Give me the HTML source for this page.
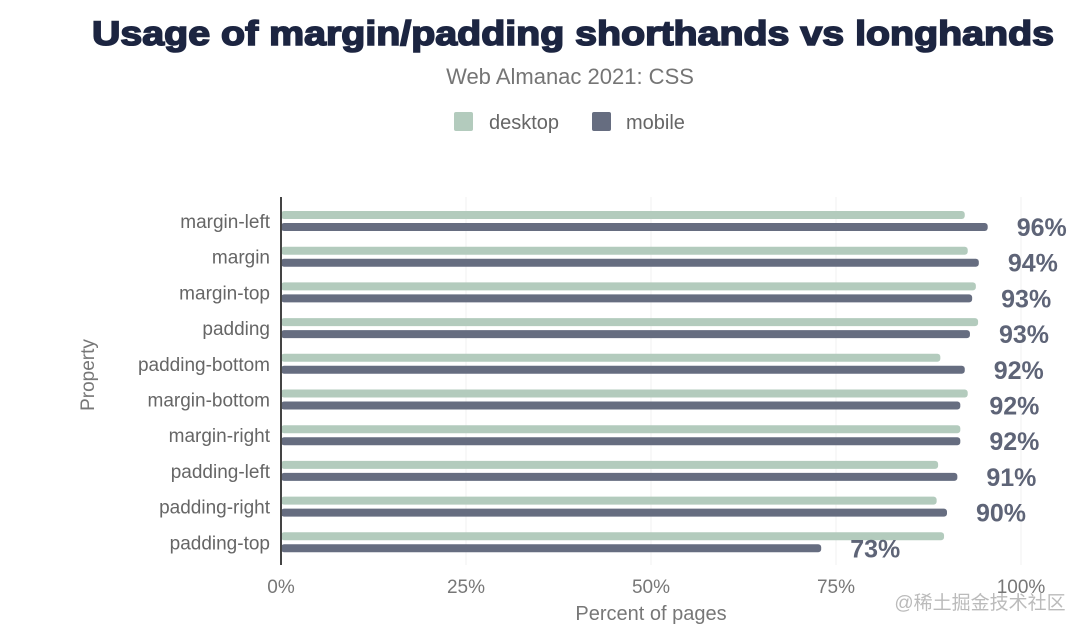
<!DOCTYPE html>
<html><head><meta charset="utf-8"><style>
html,body{margin:0;padding:0;background:#fff;}
svg{display:block;font-family:"Liberation Sans","Noto Sans CJK SC",sans-serif;}
</style></head><body>
<svg id="chart" width="1080" height="632" viewBox="0 0 1080 632">
<text x="573" y="45" text-anchor="middle" font-size="34" font-weight="bold" fill="#1c2541" stroke="#1c2541" stroke-width="1.6" textLength="962" lengthAdjust="spacingAndGlyphs">Usage of margin/padding shorthands vs longhands</text>
<text x="570" y="84" text-anchor="middle" font-size="22" fill="#757575">Web Almanac 2021: CSS</text>
<g>
<rect x="454" y="112" width="19" height="19" rx="2" fill="#b3cbbd"/>
<text x="489" y="129" font-size="20" fill="#666">desktop</text>
<rect x="592" y="112" width="19" height="19" rx="2" fill="#666d80"/>
<text x="626" y="129" font-size="20" fill="#666">mobile</text>
</g>
<g id="grid"></g><g id="bars"></g><g id="labels"></g>
<line x1="281" y1="197" x2="281" y2="565" stroke="#444" stroke-width="2"/>
<text transform="translate(94,375) rotate(-90)" text-anchor="middle" font-size="19" fill="#777">Property</text>
<text x="651" y="620" text-anchor="middle" font-size="20" fill="#777">Percent of pages</text>
<text x="980" y="609" text-anchor="middle" font-size="19" fill="#bbb">@稀土掘金技术社区</text>
</svg>
<script>
const categories=["margin-left","margin","margin-top","padding","padding-bottom","margin-bottom","margin-right","padding-left","padding-right","padding-top"];
const desktop=[92.4,92.8,93.9,94.2,89.1,92.8,91.8,88.8,88.6,89.6];
const mobile=[95.5,94.3,93.4,93.1,92.4,91.8,91.8,91.4,90.0,73.0];
const valueLabels=["96%","94%","93%","93%","92%","92%","92%","91%","90%","73%"];
const ticks=[0,25,50,75,100];
const tickLabels=["0%","25%","50%","75%","100%"];
const NS="http://www.w3.org/2000/svg";
const x=v=>281+v*7.4;
const rowY=i=>215+i*35.7;
function mk(tag,attrs,parent){const e=document.createElementNS(NS,tag);for(const k in attrs)e.setAttribute(k,attrs[k]);document.getElementById(parent).appendChild(e);return e;}
ticks.forEach((t,i)=>{
  const g=mk("line",{x1:x(t),x2:x(t),y1:197,y2:565,stroke:"#f0f0f0","stroke-width":1},"grid");
  
  
  const tl=mk("text",{x:x(t),y:593,"text-anchor":"middle","font-size":19,fill:"#777"},"labels");
  tl.textContent=tickLabels[i];
  
  
});
categories.forEach((c,i)=>{
  const y=rowY(i);
  const cl=mk("text",{x:270,y:y+13,"text-anchor":"end","font-size":19,fill:"#666"},"labels");
  cl.textContent=c;
  
  
  const d=mk("rect",{x:281,y:y-4,width:x(desktop[i])-281,height:8,rx:3,fill:"#b3cbbd"},"bars");
  
  
  const m=mk("rect",{x:281,y:y+8,width:x(mobile[i])-281,height:8,rx:3,fill:"#666d80"},"bars");
  
  
  const v=mk("text",{x:x(mobile[i])+29,y:y+21,"font-size":25,"font-weight":"bold",fill:"#5e6477"},"labels");
  v.textContent=valueLabels[i];
  
  
});
</script>
</body></html>
